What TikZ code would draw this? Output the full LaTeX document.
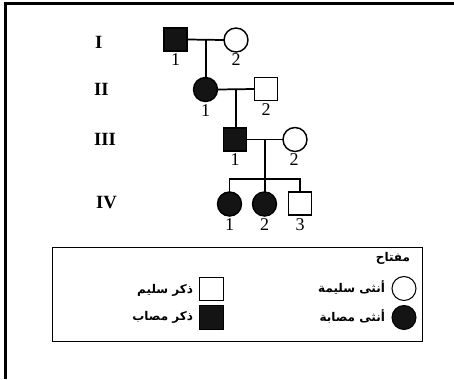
\documentclass[tikz,border=0pt]{standalone}
\usepackage{fontspec}
\usetikzlibrary{calc}
\setmainfont{Liberation Serif}
\newfontfamily\arabicfont[Script=Arabic]{DejaVu Sans}
\TeXXeTstate=1
\begin{document}
\begin{tikzpicture}[x=0.75pt,y=-0.75pt,
  every node/.style={inner sep=0pt, outer sep=0pt},
  person/.style={draw=black, line width=1.1pt, minimum size=17.5pt},
  male/.style={person, rectangle},
  female/.style={person, circle, minimum size=18pt},
  affected/.style={fill=black!92},
  healthy/.style={fill=white},
  rel/.style={line width=1.3pt},
  gen/.style={anchor=west, font=\bfseries\fontsize{14}{15}\selectfont},
  idx/.style={font=\fontsize{13.5}{14}\selectfont},
  key/.style={anchor=east, font=\arabicfont\bfseries\fontsize{9}{10}\selectfont}]
\useasboundingbox (0,0) rectangle (454,379);
% page frame
\draw[line width=1.6pt] (5.5,379) -- (5.5,3.5) -- (454,3.5);

% generation labels
\node[gen] (gI)   at (95,42)  {I};
\node[gen] (gII)  at (94,89)  {II};
\node[gen] (gIII) at (94,139) {III};
\node[gen] (gIV)  at (96,203) {IV};

% generation I
\node[male,affected]   (I1) at (175.5,39.5) {};
\node[female,healthy]  (I2) at (236,40) {};
\node[idx] (I1n) at (175.5,60) {1};
\node[idx] (I2n) at (236,60) {2};

% generation II
\node[female,affected] (II1) at (205.5,89.5) {};
\node[male,healthy]    (II2) at (266,89) {};
\node[idx] (II1n) at (205.5,110.5) {1};
\node[idx] (II2n) at (266,110) {2};

% generation III
\node[male,affected]   (III1) at (235,139.5) {};
\node[female,healthy]  (III2) at (295,139.5) {};
\node[idx] (III1n) at (235,160) {1};
\node[idx] (III2n) at (294,160) {2};

% generation IV
\node[female,affected] (IV1) at (229.5,204) {};
\node[female,affected] (IV2) at (264.5,204) {};
\node[male,healthy]    (IV3) at (300,203.5) {};
\node[idx] (IV1n) at (229.5,224.5) {1};
\node[idx] (IV2n) at (264.5,224.5) {2};
\node[idx] (IV3n) at (300,224.5) {3};

% couples and descent lines
\coordinate (m1) at ($(I1)!0.5!(I2)$);
\draw[rel] (I1.east) -- (I2.west);
\draw[rel] (m1) -- (m1 |- II1.north);

\coordinate (m2) at ($(II1)!0.5!(II2)$);
\draw[rel] (II1.east) -- (II2.west);
\draw[rel] (m2) -- (m2 |- III1.north);

\coordinate (m3) at ($(III1)!0.5!(III2)$);
\draw[rel] (III1.east) -- (III2.west);
\coordinate (sib) at (265,179);
\draw[rel] (m3) -- (m3 |- IV2.north);
\draw[rel] (IV1.north) -- (IV1 |- sib) -- (IV3 |- sib) -- (IV3.north);

% key
\draw[line width=1.3pt] (52.5,247.5) rectangle (422.5,341.5);
\node[key] (ktitle) at (410,258) {\beginR مفتاح\endR};
\node[female,healthy,line width=0.8pt,minimum size=18pt]  (kF) at (404,288.5) {};
\node[female,affected,line width=0.8pt,minimum size=18pt] (kFa) at (404,317.5) {};
\node[male,healthy,line width=0.8pt,minimum size=17.5pt]  (kM) at (211.5,289) {};
\node[male,affected,line width=0.8pt,minimum size=17.5pt] (kMa) at (211.5,317.5) {};
\node[key] (tF)  at (385,288) {\beginR أنثى سليمة\endR};
\node[key] (tFa) at (385,317) {\beginR أنثى مصابة\endR};
\node[key] (tM)  at (193,290) {\beginR ذكر سليم\endR};
\node[key] (tMa) at (193,317) {\beginR ذكر مصاب\endR};
\end{tikzpicture}
\end{document}
